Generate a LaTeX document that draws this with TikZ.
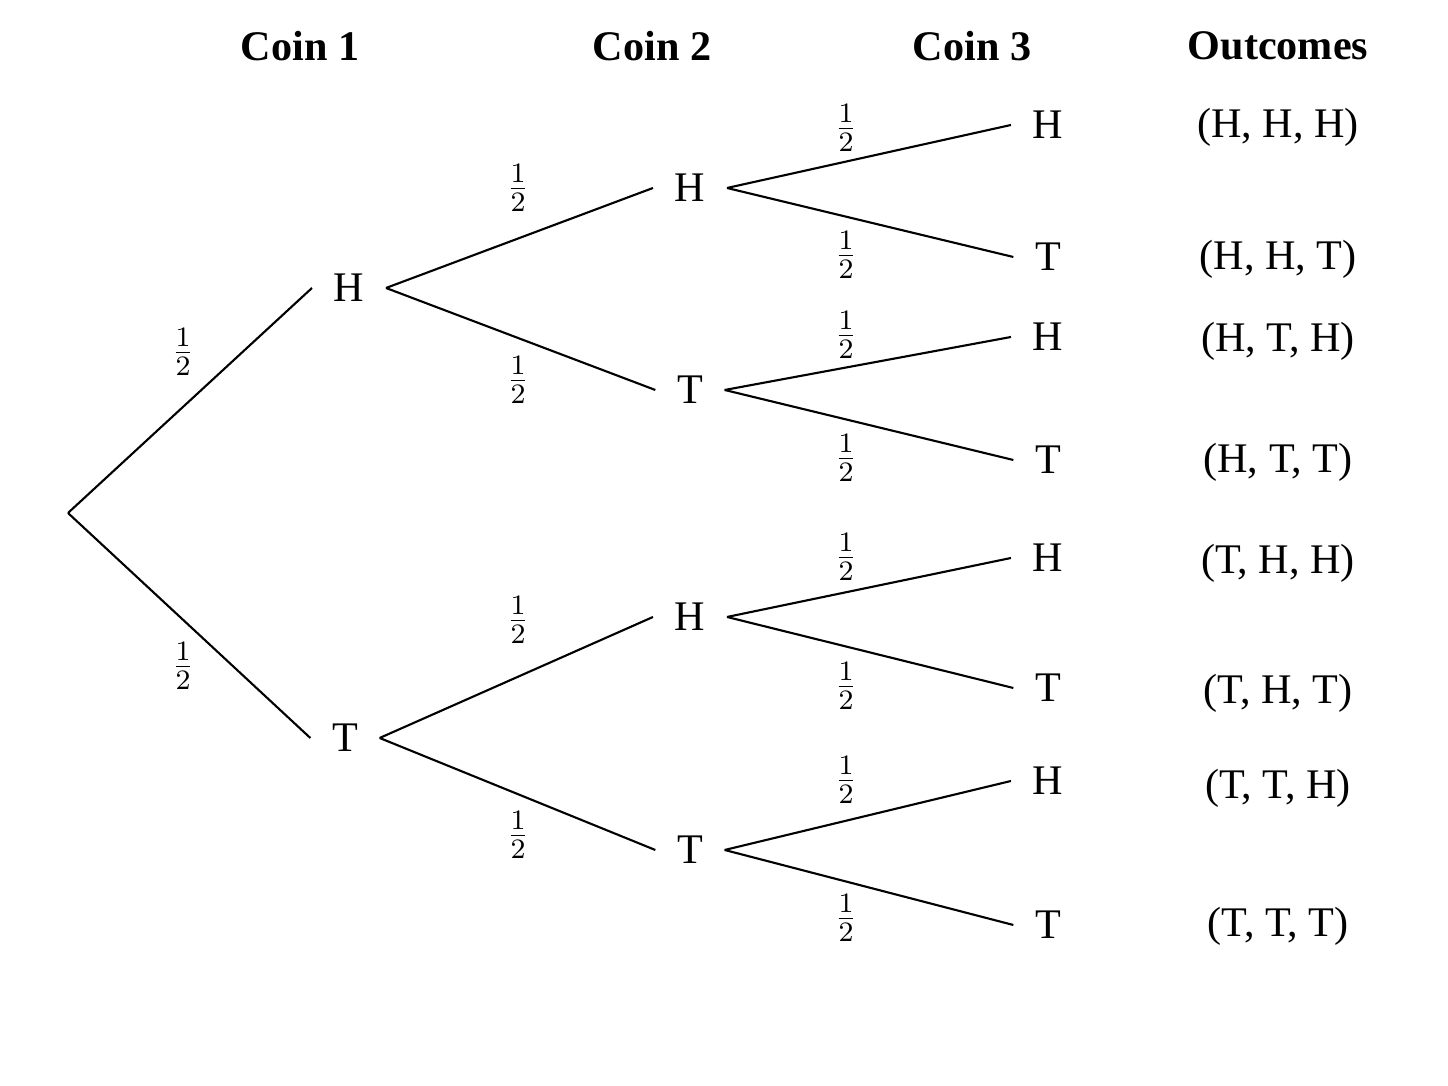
\documentclass[tikz,border=0pt]{standalone}
\usepackage{fontspec}
\setmainfont{Liberation Serif}
\usepackage{tikz}
\begin{document}
\begin{tikzpicture}[x=1cm,y=1cm,
  lbl/.style={font=\fontsize{12}{14}\selectfont, inner sep=6pt},
  head/.style={font=\fontsize{12}{14}\selectfont\bfseries},
  prob/.style={font=\fontsize{11}{13}\selectfont},
  branch/.style={line width=0.6pt}]
\useasboundingbox (0,0) rectangle (14.48,10.86);

% Headers
\node[head] (c1) at (3.00,10.40) {Coin 1};
\node[head] (c2) at (6.52,10.40) {Coin 2};
\node[head] (c3) at (9.72,10.40) {Coin 3};
\node[head] (oc) at (12.78,10.40) {Outcomes};

% Tree nodes
\coordinate (root) at (0.68,5.73);
\node[lbl] (h) at (3.49,7.98) {H};
\node[lbl] (t) at (3.45,3.48) {T};
\node[lbl] (hh) at (6.90,8.98) {H};
\node[lbl] (ht) at (6.90,6.96) {T};
\node[lbl] (th) at (6.90,4.69) {H};
\node[lbl] (tt) at (6.90,2.36) {T};
\node[lbl] (hhh) at (10.48,9.61) {H};
\node[lbl] (hht) at (10.48,8.29) {T};
\node[lbl] (hth) at (10.48,7.49) {H};
\node[lbl] (htt) at (10.48,6.26) {T};
\node[lbl] (thh) at (10.48,5.28) {H};
\node[lbl] (tht) at (10.48,3.98) {T};
\node[lbl] (tth) at (10.48,3.05) {H};
\node[lbl] (ttt) at (10.48,1.61) {T};

% Branches
\draw[branch] (root) -- (h.west);
\draw[branch] (root) -- (t.west);
\draw[branch] (h.east) -- (hh.west);
\draw[branch] (h.east) -- (ht.west);
\draw[branch] (t.east) -- (th.west);
\draw[branch] (t.east) -- (tt.west);
\draw[branch] (hh.east) -- (hhh.west);
\draw[branch] (hh.east) -- (hht.west);
\draw[branch] (ht.east) -- (hth.west);
\draw[branch] (ht.east) -- (htt.west);
\draw[branch] (th.east) -- (thh.west);
\draw[branch] (th.east) -- (tht.west);
\draw[branch] (tt.east) -- (tth.west);
\draw[branch] (tt.east) -- (ttt.west);

% Probabilities
\node[prob] (p1) at (1.83,7.34) {$\frac{1}{2}$};
\node[prob] (p2) at (1.83,4.20) {$\frac{1}{2}$};
\node[prob] (p3) at (5.18,8.98) {$\frac{1}{2}$};
\node[prob] (p4) at (5.18,7.06) {$\frac{1}{2}$};
\node[prob] (p5) at (5.18,4.66) {$\frac{1}{2}$};
\node[prob] (p6) at (5.18,2.51) {$\frac{1}{2}$};
\node[prob] (p7) at (8.46,9.58) {$\frac{1}{2}$};
\node[prob] (p8) at (8.46,8.31) {$\frac{1}{2}$};
\node[prob] (p9) at (8.46,7.51) {$\frac{1}{2}$};
\node[prob] (p10) at (8.46,6.28) {$\frac{1}{2}$};
\node[prob] (p11) at (8.46,5.29) {$\frac{1}{2}$};
\node[prob] (p12) at (8.46,4.00) {$\frac{1}{2}$};
\node[prob] (p13) at (8.46,3.06) {$\frac{1}{2}$};
\node[prob] (p14) at (8.46,1.68) {$\frac{1}{2}$};

% Outcomes
\node[lbl] (o1) at (12.78,9.59) {(H, H, H)};
\node[lbl] (o2) at (12.78,8.27) {(H, H, T)};
\node[lbl] (o3) at (12.78,7.45) {(H, T, H)};
\node[lbl] (o4) at (12.78,6.24) {(H, T, T)};
\node[lbl] (o5) at (12.78,5.23) {(T, H, H)};
\node[lbl] (o6) at (12.78,3.93) {(T, H, T)};
\node[lbl] (o7) at (12.78,2.98) {(T, T, H)};
\node[lbl] (o8) at (12.78,1.60) {(T, T, T)};
\end{tikzpicture}
\end{document}
